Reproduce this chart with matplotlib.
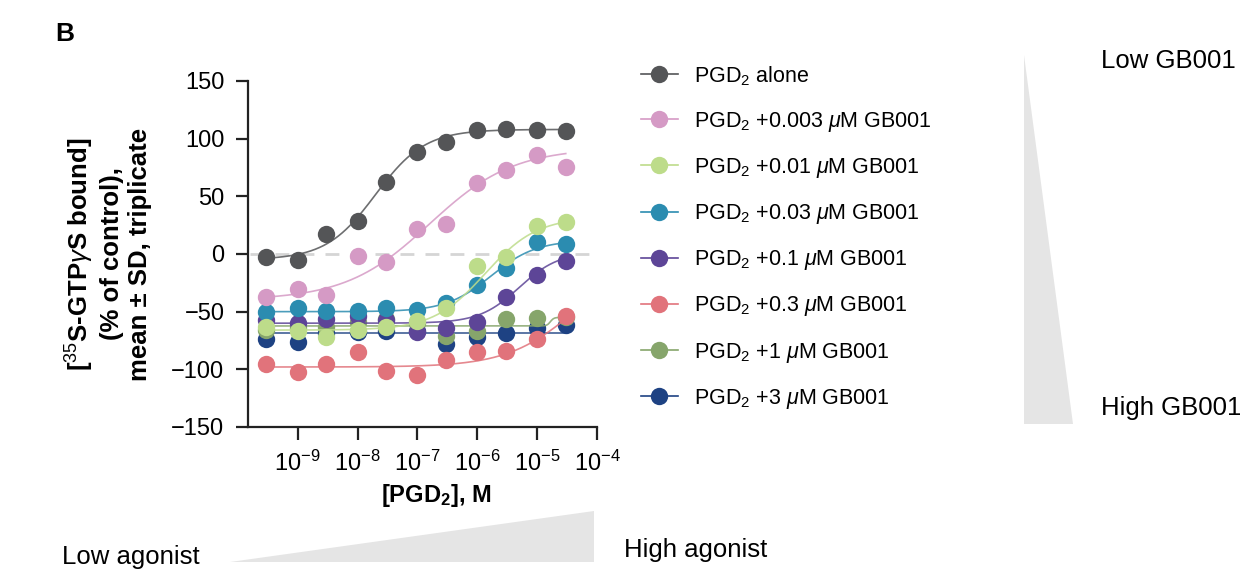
import numpy as np
import matplotlib
matplotlib.use("Agg")
import matplotlib.pyplot as plt
from matplotlib.patches import Polygon

plt.rcParams['font.family'] = ['Liberation Sans', 'DejaVu Sans']
plt.rcParams['mathtext.fontset'] = 'custom'
plt.rcParams['mathtext.rm'] = 'Liberation Sans'
plt.rcParams['mathtext.it'] = 'Liberation Sans:italic'
plt.rcParams['mathtext.bf'] = 'Liberation Sans:bold'

# PGD2 concentrations, M
conc = [3e-10, 1e-9, 3e-9, 1e-8, 3e-8, 1e-7, 3e-7, 1e-6, 3e-6, 1e-5, 3e-5]

labels = [r'PGD$_2$ alone',
          r'PGD$_2$ +0.003 $\mu$M GB001',
          r'PGD$_2$ +0.01 $\mu$M GB001',
          r'PGD$_2$ +0.03 $\mu$M GB001',
          r'PGD$_2$ +0.1 $\mu$M GB001',
          r'PGD$_2$ +0.3 $\mu$M GB001',
          r'PGD$_2$ +1 $\mu$M GB001',
          r'PGD$_2$ +3 $\mu$M GB001']
colors = ['#545557', '#d59ac5', '#bddc8a', '#2b8cb0',
          '#5d4597', '#e1737b', '#86a56b', '#1e4283']

# % of control, mean values
pgd_alone = [-2.3, -5.5, 17, 28.6, 62.7, 88.7, 96.9, 107.5, 108.5, 107.8, 106.7]
gb_0003 = [-37, -30.4, -35.6, -1.7, -7.2, 21.7, 26, 61.9, 72.9, 85.9, 75.7]
gb_001 = [-63.6, -66.5, -72, -65.9, -63.6, -57.8, -47.1, -10.4, -2.9, 24.6, 27.8]
gb_003 = [-50, -47.1, -49.4, -49.4, -47.1, -48.8, -42.2, -26.9, -12.4, 10, 8.4]
gb_01 = [-57, -59.5, -56.4, -53.8, -57, -67.2, -63.8, -58.7, -37.6, -17.9, -6.1]
gb_03 = [-95.4, -102, -95.4, -85.3, -101.5, -105, -92, -85.3, -84.1, -73.7, -53.8]
gb_1 = [-66, -64, -63, -59, -56.7, -60, -71, -66.5, -56.7, -55.2, -55]
gb_3 = [-73.7, -76.3, -68.8, -68, -67, -67, -78.3, -72.3, -68.8, -64.5, -61.6]
series = [pgd_alone, gb_0003, gb_001, gb_003, gb_01, gb_03, gb_1, gb_3]

# four-parameter logistic fit parameters for each curve
fit_bottom = [-5, -40, -66, -50, -60, -98, -62.4, -68.5]
fit_top = [108, 92, 32, 12, 2, 0, -55, -68.5]
fit_logec50 = [-7.7, -6.8, -5.87, -5.77, -5.3, -4.35, -4.78, -6]
fit_hill = [1.05, 0.62, 1.0, 1.15, 1.3, 0.75, 15, 1]


def logistic(logx, bottom, top, logec50, hill):
    return bottom + (top - bottom) / (1 + 10 ** ((logec50 - logx) * hill))


fig = plt.figure(figsize=(12.4, 5.72), dpi=100)
ax = fig.add_axes([0.2, 0.2535, 0.2815, 0.6049])

ax.plot([10 ** -9.8, 10 ** -4.05], [0, 0], color='#d5d5d5', lw=2.0,
        dashes=(5, 4), zorder=0)

logx = np.linspace(np.log10(conc[0]), np.log10(conc[-1]), 400)
handles = [None] * len(series)
for i in reversed(range(len(series))):
    yfit = logistic(logx, fit_bottom[i], fit_top[i], fit_logec50[i], fit_hill[i])
    ax.plot(10 ** logx, yfit, color=colors[i], lw=1.2, alpha=0.85)
    ax.plot(conc, series[i], 'o', color=colors[i], ms=12.5, mec='none')
    handles[i] = plt.Line2D([], [], color=colors[i], lw=1.2, marker='o',
                            ms=12.5, mec='none')

ax.set_xscale('log')
ax.set_xlim(10 ** -9.83, 1e-4)
ax.set_ylim(-150, 150)
ax.set_yticks([-150, -100, -50, 0, 50, 100, 150])
ax.set_xticks([1e-9, 1e-8, 1e-7, 1e-6, 1e-5, 1e-4])
ax.xaxis.set_minor_locator(matplotlib.ticker.NullLocator())
for s in ['top', 'right']:
    ax.spines[s].set_visible(False)
for s in ['left', 'bottom']:
    ax.spines[s].set_linewidth(1.6)
    ax.spines[s].set_color('#222222')
ax.tick_params(length=9, width=1.6, labelsize=17, color='#222222', pad=8)

ax.set_xlabel(r'[PGD$_\mathbf{2}$], M', fontsize=17, fontweight='bold')
ax.xaxis.set_label_coords(0.54, -0.16)
ax.set_ylabel('[$^{35}$S-GTP$\\gamma$S bound]\n(% of control),\nmean ± SD, triplicate',
              fontsize=18.5, fontweight='bold', linespacing=1.2)
ax.yaxis.set_label_coords(-0.275, 0.5)

ax.legend(handles, labels, loc='upper left', bbox_to_anchor=(641 / 1240, 1 - 64 / 572),
          bbox_transform=fig.transFigure, frameon=False, fontsize=15.5,
          handlelength=1.7, handletextpad=0.75, labelspacing=1.03,
          borderpad=0, borderaxespad=0)

fig.text(55 / 1240, 1 - 34 / 572, 'B', fontsize=19, fontweight='bold', va='center')

# gradient wedges
fig.patches.append(Polygon([[1024 / 1240, 1 - 55 / 572], [1024 / 1240, 1 - 424 / 572],
                            [1073 / 1240, 1 - 424 / 572]], closed=True,
                           transform=fig.transFigure, color='#e5e5e5', lw=0))
fig.patches.append(Polygon([[230 / 1240, 1 - 562 / 572], [594 / 1240, 1 - 511 / 572],
                            [594 / 1240, 1 - 562 / 572]], closed=True,
                           transform=fig.transFigure, color='#e5e5e5', lw=0))
fig.text(1101 / 1240, 1 - 61 / 572, 'Low GB001', fontsize=18.5, va='center')
fig.text(1101 / 1240, 1 - 408 / 572, 'High GB001', fontsize=18.5, va='center')
fig.text(62 / 1240, 1 - 557 / 572, 'Low agonist', fontsize=18.5, va='center')
fig.text(624 / 1240, 1 - 550 / 572, 'High agonist', fontsize=18.5, va='center')

fig.savefig('out.png', dpi=100)
